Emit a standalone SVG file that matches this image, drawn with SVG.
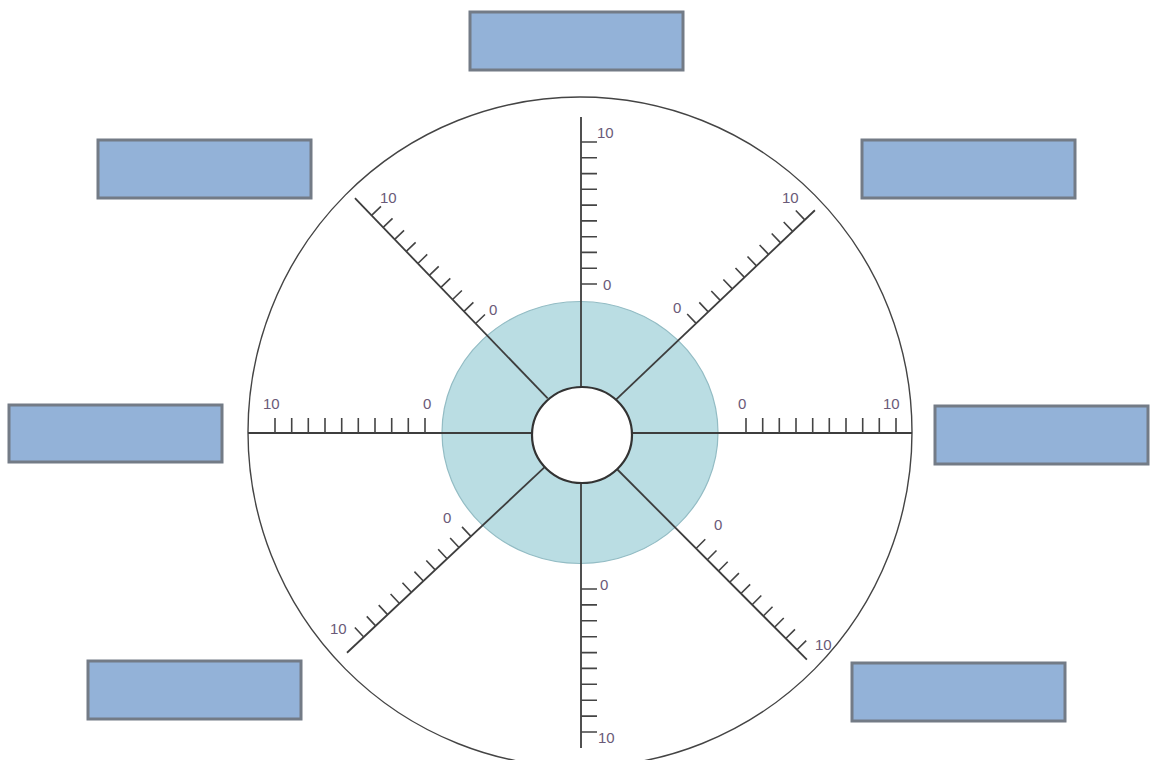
<svg xmlns="http://www.w3.org/2000/svg" width="1150" height="760" viewBox="0 0 1150 760">
<style>
.box{fill:#93b2d8;stroke:#737b86;stroke-width:3}
.spoke{stroke:#3d3d3d;stroke-width:1.8;fill:none}
.tick{stroke:#444;stroke-width:1.6;fill:none}
.lbl{font-family:"Liberation Sans",Arial,sans-serif;font-size:15px;fill:#6a5a78}
</style>
<rect width="1150" height="760" fill="#ffffff"/>
<g id="wheel">
<ellipse cx="580" cy="432" rx="332" ry="335" fill="none" stroke="#444" stroke-width="1.4"/>
<ellipse cx="580" cy="432.5" rx="138" ry="131" fill="#badde3" stroke="#93bcc4" stroke-width="1.2"/>
</g>
<g id="connectors">
<g transform="translate(581,433) rotate(-90)">
<line class="spoke" x1="46" y1="0" x2="316" y2="0"/>
<path class="tick" d="M149 0v16M164.8 0v16M180.6 0v16M196.3 0v16M212.1 0v16M227.9 0v16M243.7 0v16M259.4 0v16M275.2 0v16M291 0v16"/>
</g>
<g transform="translate(581,433) rotate(90)">
<line class="spoke" x1="48" y1="0" x2="315" y2="0"/>
<path class="tick" d="M156 0v-16M171.9 0v-16M187.8 0v-16M203.7 0v-16M219.6 0v-16M235.4 0v-16M251.3 0v-16M267.2 0v-16M283.1 0v-16M299 0v-16"/>
</g>
<g transform="translate(581,433) rotate(180)">
<line class="spoke" x1="48" y1="0" x2="333" y2="0"/>
<path class="tick" d="M156 0v15M172.7 0v15M189.3 0v15M206 0v15M222.7 0v15M239.3 0v15M256 0v15M272.7 0v15M289.3 0v15M306 0v15"/>
</g>
<g transform="translate(581,433)">
<line class="spoke" x1="50" y1="0" x2="331" y2="0"/>
<path class="tick" d="M165 0v-15M181.7 0v-15M198.3 0v-15M215 0v-15M231.7 0v-15M248.3 0v-15M265 0v-15M281.7 0v-15M298.3 0v-15M315 0v-15"/>
</g>
<g transform="translate(581,433) rotate(-133.9)">
<line class="spoke" x1="48" y1="0" x2="326" y2="0"/>
<path class="tick" d="M152 0v13M168.7 0v13M185.3 0v13M202 0v13M218.7 0v13M235.3 0v13M252 0v13M268.7 0v13M285.3 0v13M302 0v13"/>
</g>
<g transform="translate(581,433) rotate(-43.6)">
<line class="spoke" x1="48" y1="0" x2="323" y2="0"/>
<path class="tick" d="M159 0v-13M175.7 0v-13M192.3 0v-13M209 0v-13M225.7 0v-13M242.3 0v-13M259 0v-13M275.7 0v-13M292.3 0v-13M309 0v-13"/>
</g>
<g transform="translate(581,433) rotate(136.8)">
<line class="spoke" x1="48" y1="0" x2="321" y2="0"/>
<path class="tick" d="M151 0v13M167.3 0v13M183.7 0v13M200 0v13M216.3 0v13M232.7 0v13M249 0v13M265.3 0v13M281.7 0v13M298 0v13"/>
</g>
<g transform="translate(581,433) rotate(45.1)">
<line class="spoke" x1="48" y1="0" x2="320" y2="0"/>
<path class="tick" d="M163 0v-13M178.9 0v-13M194.8 0v-13M210.7 0v-13M226.6 0v-13M242.4 0v-13M258.3 0v-13M274.2 0v-13M290.1 0v-13M306 0v-13"/>
</g>
</g>
<g id="hub">
<ellipse cx="582" cy="435" rx="50" ry="48" fill="#ffffff" stroke="#333" stroke-width="2.2"/>
</g>
<g id="labels">
<text class="lbl" x="597" y="138">10</text>
<text class="lbl" x="603" y="290">0</text>
<text class="lbl" x="600" y="590">0</text>
<text class="lbl" x="598" y="743">10</text>
<text class="lbl" x="263" y="409">10</text>
<text class="lbl" x="423" y="409">0</text>
<text class="lbl" x="738" y="409">0</text>
<text class="lbl" x="883" y="409">10</text>
<text class="lbl" x="380" y="203">10</text>
<text class="lbl" x="489" y="315">0</text>
<text class="lbl" x="782" y="203">10</text>
<text class="lbl" x="673" y="313">0</text>
<text class="lbl" x="443" y="523">0</text>
<text class="lbl" x="330" y="634">10</text>
<text class="lbl" x="714" y="530">0</text>
<text class="lbl" x="815" y="650">10</text>
</g>
<g id="box-top"><rect class="box" x="470" y="12" width="213" height="58"/></g>
<g id="box-top-left"><rect class="box" x="98" y="140" width="213" height="58"/></g>
<g id="box-top-right"><rect class="box" x="862" y="140" width="213" height="58"/></g>
<g id="box-left"><rect class="box" x="9" y="405" width="213" height="57"/></g>
<g id="box-right"><rect class="box" x="935" y="406" width="213" height="58"/></g>
<g id="box-bottom-left"><rect class="box" x="88" y="661" width="213" height="58"/></g>
<g id="box-bottom-right"><rect class="box" x="852" y="663" width="213" height="58"/></g>
</svg>
